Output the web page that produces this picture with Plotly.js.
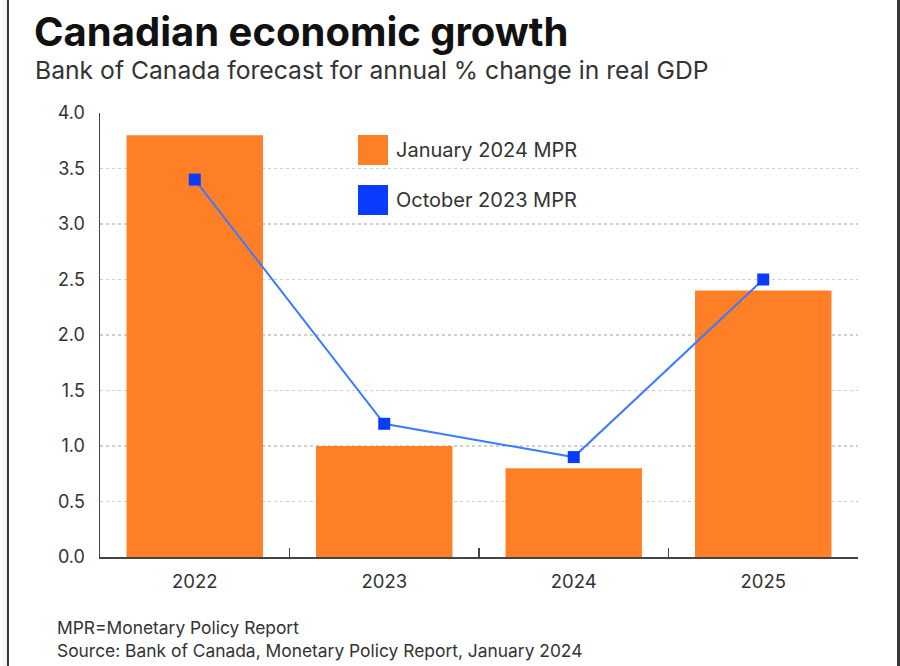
<!DOCTYPE html>
<html>
<head>
<meta charset="utf-8">
<script src="https://cdn.plot.ly/plotly-3.0.1.min.js"></script>
<style>
  html, body { margin: 0; padding: 0; background: #fff; }
  #wrap { position: relative; width: 900px; height: 666px; overflow: hidden; }
  #chart { position: absolute; left: 0; top: 0; width: 900px; height: 666px; }
  .edge { position: absolute; top: 0; height: 666px; background: #3a3a3a; pointer-events: none; }
  #shadow { position: absolute; left: 0; top: 0; width: 8px; height: 666px;
            background: linear-gradient(to right, #ffffff, #ececec); pointer-events: none; }
</style>
</head>
<body>
<div id="wrap">
  <div id="chart"></div>
  <div id="shadow"></div>
  <div class="edge" style="left:7px;width:2px;"></div>
  <div class="edge" style="left:897px;width:3px;"></div>
</div>
<script>
const years = ['2022', '2023', '2024', '2025'];
const jan2024 = [3.8, 1.0, 0.8, 2.4];
const oct2023 = [3.4, 1.2, 0.9, 2.5];
const seriesNames = ['January 2024 MPR', 'October 2023 MPR'];
const yTicks = [0, 0.5, 1, 1.5, 2, 2.5, 3, 3.5, 4];

const orange = '#FF7F27';
const blueMarker = '#0A3CFF';
const blueLine = '#3A7BFF';
const font = 'Inter, "Noto Sans", Arial, sans-serif';

const traces = [
  {
    type: 'bar', x: years, y: jan2024, name: seriesNames[0],
    marker: { color: orange }, width: 0.72, showlegend: false,
    hoverinfo: 'x+y'
  },
  {
    type: 'scatter', mode: 'lines+markers', x: years, y: oct2023, name: seriesNames[1],
    line: { color: blueLine, width: 2 },
    marker: { color: blueMarker, symbol: 'square', size: 12 },
    showlegend: false
  }
];

function py(v) { return (557 - v) / 444; }
function px(v) { return (v - 100) / 758; }

const layout = {
  width: 900, height: 666,
  margin: { l: 100, r: 42, t: 113, b: 109 },
  paper_bgcolor: '#ffffff', plot_bgcolor: '#ffffff',
  font: { family: font, color: '#333333', size: 18 },
  showlegend: false,
  bargap: 0.28,
  xaxis: {
    type: 'category', range: [-0.5, 3.5],
    tickson: 'boundaries', ticks: 'inside', ticklen: 9, tickwidth: 1.5, tickcolor: '#444',
    showline: true, linecolor: '#444', linewidth: 1.5,
    showgrid: false, zeroline: false,
    tickfont: { family: font, size: 18.5, color: '#333' },
    ticklabelstandoff: 7
  },
  yaxis: {
    range: [0, 4], tickvals: yTicks, tickformat: '.1f',
    showline: true, linecolor: '#444', linewidth: 1.5,
    showgrid: true, gridcolor: '#cfcfcf', griddash: 'dot', gridwidth: 1.5,
    zeroline: false, ticks: '',
    tickfont: { family: font, size: 18, color: '#333' },
    ticklabelstandoff: 10
  },
  shapes: [
    { type: 'rect', xref: 'paper', yref: 'paper', x0: px(358), x1: px(388), y0: py(165), y1: py(135),
      fillcolor: orange, line: { width: 0 } },
    { type: 'rect', xref: 'paper', yref: 'paper', x0: px(358), x1: px(388), y0: py(215), y1: py(185),
      fillcolor: blueMarker, line: { width: 0 } }
  ],
  annotations: [
    { text: seriesNames[0], xref: 'paper', yref: 'paper', x: px(394), y: py(150),
      xanchor: 'left', yanchor: 'middle', showarrow: false,
      font: { family: font, size: 20, color: '#333' } },
    { text: seriesNames[1], xref: 'paper', yref: 'paper', x: px(394), y: py(200),
      xanchor: 'left', yanchor: 'middle', showarrow: false,
      font: { family: font, size: 20, color: '#333' } },
    { text: '<b>Canadian economic growth</b>', xref: 'paper', yref: 'paper', x: px(32), y: py(32),
      xanchor: 'left', yanchor: 'middle', showarrow: false,
      font: { family: font, size: 40, color: '#111' } },
    { text: 'Bank of Canada forecast for annual % change in real GDP', xref: 'paper', yref: 'paper',
      x: px(33), y: py(70), xanchor: 'left', yanchor: 'middle', showarrow: false,
      font: { family: font, size: 24.7, color: '#333' } },
    { text: 'MPR=Monetary Policy Report', xref: 'paper', yref: 'paper',
      x: px(55), y: py(627), xanchor: 'left', yanchor: 'middle', showarrow: false,
      font: { family: font, size: 17.4, color: '#333' } },
    { text: 'Source: Bank of Canada, Monetary Policy Report, January 2024', xref: 'paper', yref: 'paper',
      x: px(55), y: py(650), xanchor: 'left', yanchor: 'middle', showarrow: false,
      font: { family: font, size: 17.4, color: '#333' } }
  ]
};

Plotly.newPlot('chart', traces, layout, { displayModeBar: false, staticPlot: true });
</script>
</body>
</html>
